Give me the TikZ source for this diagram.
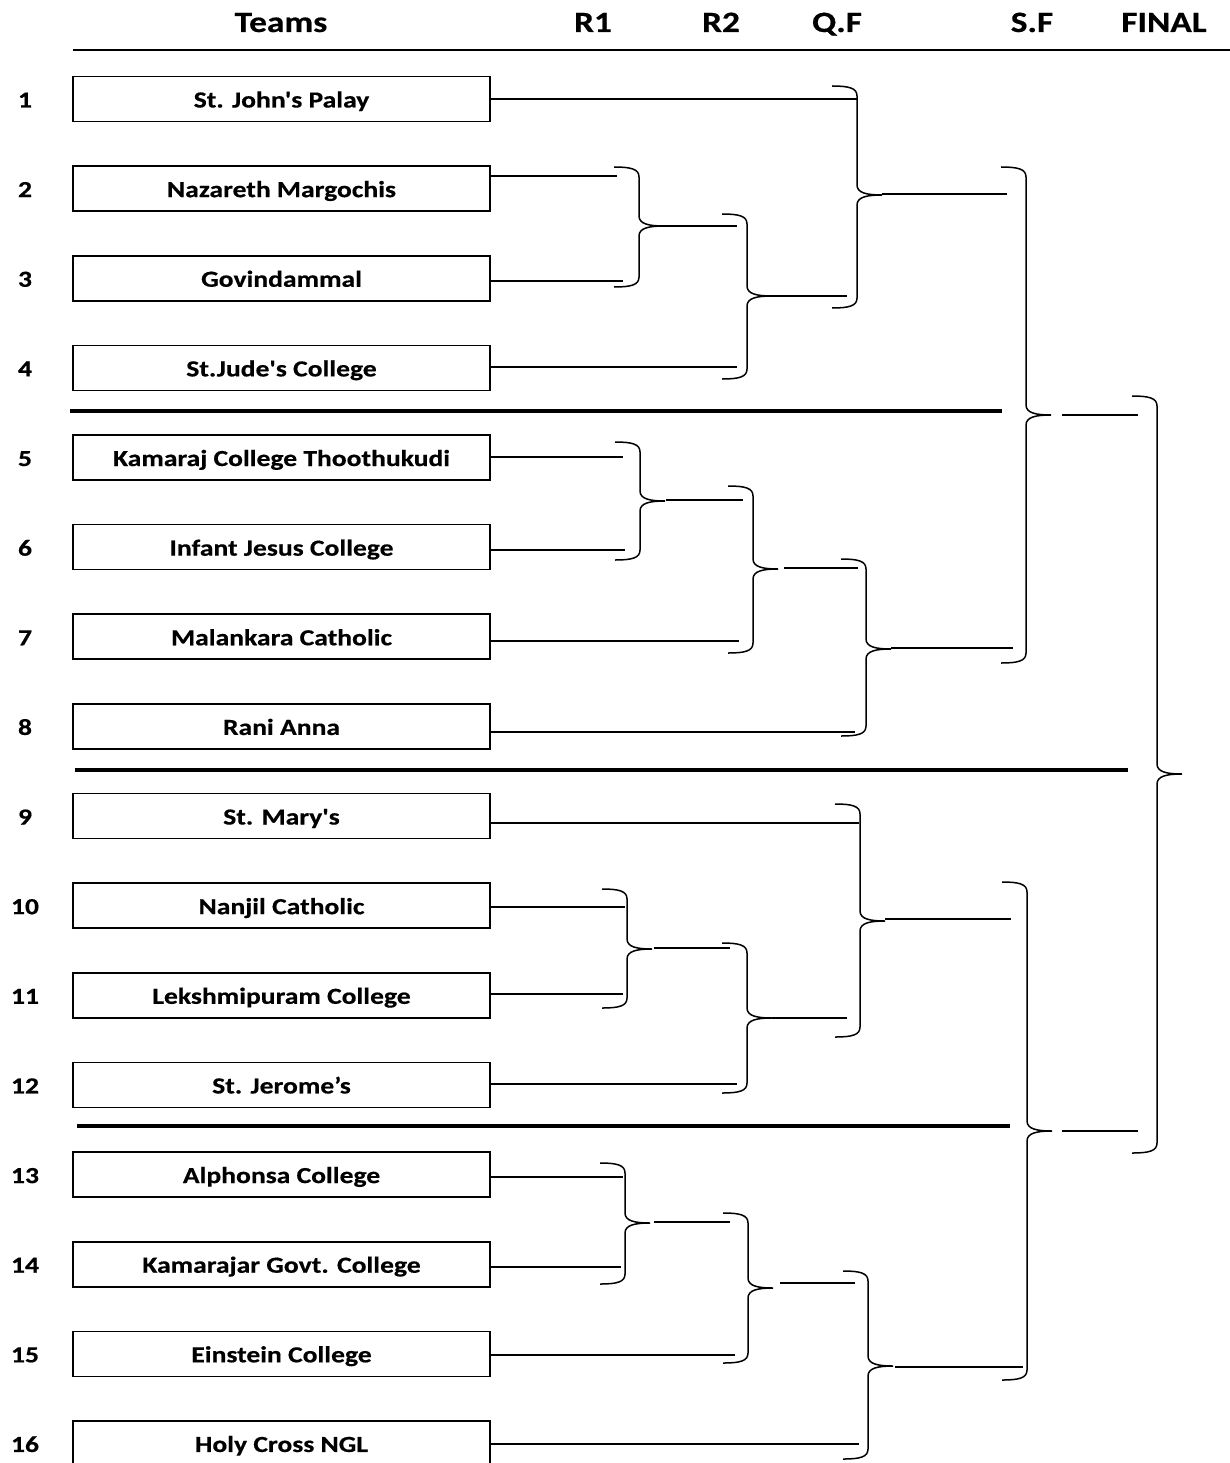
\documentclass[tikz,border=0pt]{standalone}
\usepackage{fontspec}
\newfontfamily\lblfont{Carlito}[FakeStretch=1.2,BoldFeatures={FakeBold=0.5}]
\begin{document}
\begin{tikzpicture}[x=1pt,y=-1pt,
  conn/.style={line width=1.5pt,black},
  sep/.style={line width=4.5pt,black},
  team/.style={draw,line width=1.6pt,minimum width=417pt,minimum height=45pt,inner sep=0pt,text height=20pt,text depth=3pt,font=\lblfont\bfseries\fontsize{23}{26}\selectfont},
  num/.style={inner sep=0pt,text height=20pt,text depth=3pt,font=\lblfont\bfseries\fontsize{23}{26}\selectfont},
  head/.style={inner sep=0pt,anchor=base,font=\lblfont\bfseries\fontsize{29.5}{32}\selectfont}]
\useasboundingbox (0,0) rectangle (1230,1463);
\newcommand\brk[4]{%
 \draw[conn] ({#1-25},#2) .. controls ({#1-8},#2) and (#1,{#2+2}) .. (#1,{#2+10}) -- (#1,{#4-10})
   .. controls (#1,{#4-2}) and ({#1+10},#4) .. ({#1+25},#4)
   .. controls ({#1+10},#4) and (#1,{#4+2}) .. (#1,{#4+10}) -- (#1,{#3-10})
   .. controls (#1,{#3-2}) and ({#1-8},#3) .. ({#1-25},#3);}
% header
\node[head] (hT) at (281,32) {Teams};
\node[head] (hR1) at (593,32) {R1};
\node[head] (hR2) at (721,32) {R2};
\node[head] (hQF) at (837,32) {Q.F};
\node[head] (hSF) at (1032,32) {S.F};
\node[head] (hF) at (1164,32) {FINAL};
\coordinate (ul1) at (73,50);
\coordinate (ul2) at (1230,50);
\draw[line width=2pt] (ul1) -- (ul2);
% teams
\foreach \i/\t in {1/{St. John's Palay},2/{Nazareth Margochis},3/{Govindammal},4/{St.Jude's College},
  5/{Kamaraj College Thoothukudi},6/{Infant Jesus College},7/{Malankara Catholic},8/{Rani Anna},
  9/{St. Mary's},10/{Nanjil Catholic},11/{Lekshmipuram College},12/{St. Jerome’s},
  13/{Alphonsa College},14/{Kamarajar Govt. College},15/{Einstein College},16/{Holy Cross NGL}}{
  \node[team] (t\i) at (281.5,{99+(\i-1)*89.63}) {\t};
  \node[num] (n\i) at (25,{99+(\i-1)*89.63}) {\i};
}
% team lines
\foreach \i/\y/\x in {1/99/857,2/176/617,3/281/623,4/367/737,5/457/623,6/550/625,7/641/739,8/732/855,
  9/823/859,10/907/625,11/994/623,12/1084/737,13/1177/623,14/1267/621,15/1355/735,16/1444/859}{
  \coordinate (e\i) at (\x,\y);
  \draw[conn] (t\i.east |- e\i) -- (e\i);
}
% separators
\coordinate (s1a) at (70,411); \coordinate (s1b) at (1002,411);
\coordinate (s2a) at (75,770); \coordinate (s2b) at (1128,770);
\coordinate (s3a) at (77,1126); \coordinate (s3b) at (1010,1126);
\draw[sep] (s1a) -- (s1b);
\draw[sep] (s2a) -- (s2b);
\draw[sep] (s3a) -- (s3b);
% braces and winner lines
\brk{639}{167}{287}{226} \draw[conn] (663,226) -- (737,226);
\brk{747}{214}{379}{296} \draw[conn] (772,296) -- (847,296);
\brk{857}{86}{308}{195}  \draw[conn] (882,194) -- (1007,194);
\brk{640}{442}{560}{501} \draw[conn] (666,500) -- (743,500);
\brk{753}{486}{653}{569} \draw[conn] (784,568) -- (858,568);
\brk{866}{559}{736}{649} \draw[conn] (891,648) -- (1013,648);
\brk{1026}{167}{663}{415} \draw[conn] (1062,415) -- (1138,415);
\brk{1157}{396}{1153}{774}
\brk{627}{889}{1008}{949} \draw[conn] (654,948) -- (730,948);
\brk{747}{943}{1093}{1018} \draw[conn] (772,1018) -- (847,1018);
\brk{860}{804}{1037}{921} \draw[conn] (885,919) -- (1011,919);
\brk{625}{1163}{1284}{1223} \draw[conn] (654,1222) -- (730,1222);
\brk{748}{1213}{1363}{1288} \draw[conn] (780,1283) -- (855,1283);
\brk{868}{1271}{1459}{1366} \draw[conn] (895,1367) -- (1023,1367);
\brk{1027}{882}{1380}{1131} \draw[conn] (1062,1131) -- (1138,1131);
\end{tikzpicture}
\end{document}
